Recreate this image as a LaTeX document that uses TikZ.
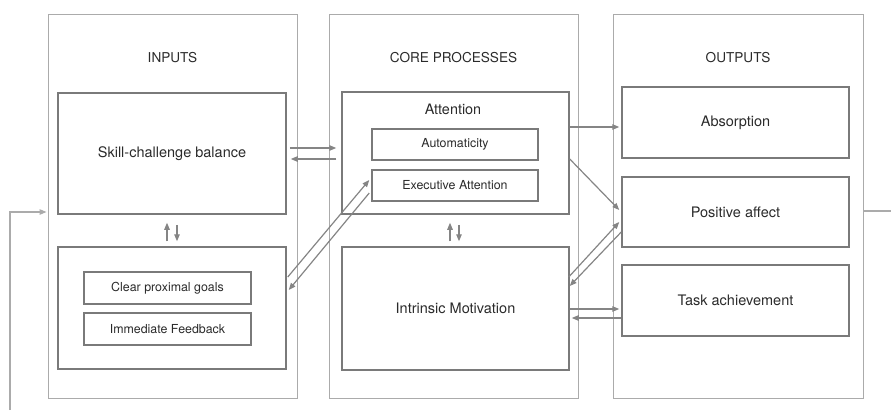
\documentclass[tikz,border=0pt]{standalone}
\usepackage{fontspec}
\setmainfont{TeX Gyre Heros}
\usetikzlibrary{arrows.meta,calc}
\definecolor{panelc}{HTML}{ABABAB}
\definecolor{boxc}{HTML}{7A7A7A}
\definecolor{arrc}{HTML}{858585}
\definecolor{txtc}{HTML}{2A2A2A}
\begin{document}
\begin{tikzpicture}[x=1pt,y=-1pt,
 panel/.style={draw=panelc,line width=1pt,inner sep=0pt},
 bigbox/.style={draw=boxc,line width=1.5pt,inner sep=0pt,text=txtc,font=\fontsize{14.5}{17}\selectfont},
 smallbox/.style={draw=boxc,line width=1.5pt,inner sep=0pt,text=txtc,font=\fontsize{12.4}{15}\selectfont},
 head/.style={text=txtc,font=\fontsize{13.6}{16}\selectfont,anchor=base,inner sep=0pt},
 lbl/.style={text=txtc,font=\fontsize{14.4}{17}\selectfont,anchor=base,inner sep=0pt},
 arr/.style={draw=arrc,line width=1.2pt,-{Triangle[length=7pt,width=5.5pt]}},
 loop/.style={draw=panelc,line width=1.2pt}]
\useasboundingbox (0,0) rectangle (891,410);
% panels
\node[panel,minimum width=249pt,minimum height=384pt] (pin) at (172.5,206) {};
\node[panel,minimum width=249pt,minimum height=384pt] (pcore) at (453.5,206) {};
\node[panel,minimum width=250pt,minimum height=384pt] (pout) at (738,206) {};
\node[head] (hin) at (172.5,62) {INPUTS};
\node[head] (hcore) at (453.5,62) {CORE PROCESSES};
\node[head] (hout) at (738,62) {OUTPUTS};
% inputs
\node[bigbox,minimum width=228pt,minimum height=121pt] (skill) at (172,153.5) {Skill-challenge balance};
\node[bigbox,minimum width=228pt,minimum height=122pt] (lowin) at (172,308) {};
\node[smallbox,minimum width=167pt,minimum height=32pt] (goals) at (167.5,288) {Clear proximal goals};
\node[smallbox,minimum width=167pt,minimum height=32pt] (feed) at (167.5,329) {Immediate Feedback};
% core
\node[bigbox,minimum width=227pt,minimum height=122pt] (att) at (455.5,153) {};
\node[lbl] (attl) at (453,114) {Attention};
\node[smallbox,minimum width=166pt,minimum height=31pt] (auto) at (455,144.5) {Automaticity};
\node[smallbox,minimum width=166pt,minimum height=31pt] (exec) at (455,185.5) {Executive Attention};
\node[bigbox,minimum width=227pt,minimum height=123pt] (intr) at (455.5,308.5) {Intrinsic Motivation};
% outputs
\node[bigbox,minimum width=227pt,minimum height=71pt] (abs) at (735.5,122.5) {Absorption};
\node[bigbox,minimum width=227pt,minimum height=70pt] (pos) at (735.5,212) {Positive affect};
\node[bigbox,minimum width=227pt,minimum height=71pt] (task) at (735.5,300.5) {Task achievement};
% arrows inputs <-> core
\draw[arr] ($(skill.east)+(3,-5.5)$) -- ($(att.west)+(-5,-5)$);
\draw[arr] ($(att.west)+(-5,6)$) -- ($(skill.east)+(4,5.5)$);
\draw[arr] ($(lowin.north)+(-5,-5)$) -- ($(skill.south)+(-5,8)$);
\draw[arr] ($(skill.south)+(5,10)$) -- ($(lowin.north)+(5,-5)$);
\draw[arr] ($(intr.north)+(-5.5,-5)$) -- ($(att.south)+(-5.5,8)$);
\draw[arr] ($(att.south)+(3.5,10)$) -- ($(intr.north)+(3.5,-5)$);
\draw[arr] ($(lowin.east)+(1,-31)$) -- ($(exec.west)+(-2,-5.5)$);
\draw[arr] ($(exec.west)+(-2,7.5)$) -- ($(lowin.east)+(2,-18)$);
% core -> outputs
\draw[arr] ($(att.east)+(0,-26)$) -- ($(abs.west)+(-2,4.5)$);
\draw[arr] ($(att.east)+(0,6)$) -- ($(pos.west)+(-2,-2)$);
\draw[arr] ($(intr.east)+(-1,-31.5)$) -- ($(pos.west)+(-2,10)$);
\draw[arr] ($(pos.west)+(0,20)$) -- ($(intr.east)+(0,-22.5)$);
\draw[arr] ($(intr.east)+(0,0.5)$) -- ($(task.west)+(-2,8.5)$);
\draw[arr] ($(task.west)+(0,17.5)$) -- ($(intr.east)+(2,9.5)$);
% feedback loop
\coordinate (rend) at (891,211);
\coordinate (lstart) at (10,410);
\draw[loop] ($(pout.east)+(0,5)$) -- (rend);
\draw[loop,-{Triangle[length=7pt,width=5.5pt]}] (lstart) |- ($(pin.west)+(-1,6)$);
\end{tikzpicture}
\end{document}
